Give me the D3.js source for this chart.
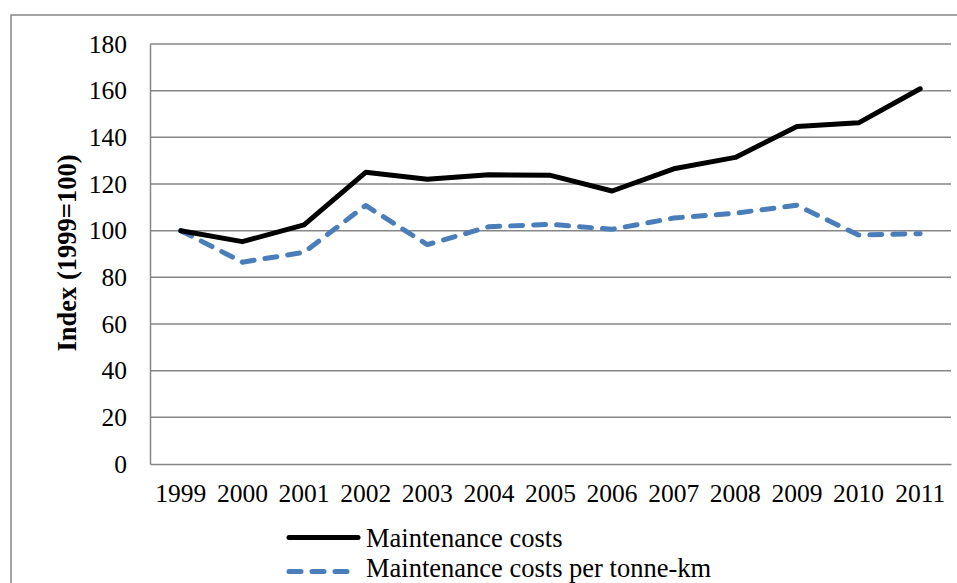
<!DOCTYPE html>
<html><head><meta charset="utf-8">
<script src="https://cdn.jsdelivr.net/npm/d3@7"></script>
<style>body{margin:0;background:#fff}svg{display:block}text{font-family:"Liberation Serif","Times New Roman",serif}</style>
</head><body>
<svg id="c" width="957" height="583"></svg>
<script>
const years = ["1999","2000","2001","2002","2003","2004","2005","2006","2007","2008","2009","2010","2011"];
const maintenanceCosts = [100, 95.3, 102.5, 125, 122, 124, 123.7, 117, 126.5, 131.4, 144.6, 146.2, 160.8];
const costsPerTonneKm = [100, 86.5, 90.7, 110.8, 94, 101.7, 102.7, 100.6, 105.4, 107.5, 110.9, 98.1, 98.7];
const yTicks = [0, 20, 40, 60, 80, 100, 120, 140, 160, 180];
const seriesNames = ["Maintenance costs", "Maintenance costs per tonne-km"];

const svg = d3.select("#c");
const L = 150, R = 951, T = 44, B = 464;
const x = d3.scaleBand().domain(years).range([L, R]);
const y = d3.scaleLinear().domain([0, 180]).range([B, T]);
const grey = "#868686";

// outer border
svg.append("rect").attr("x", 11).attr("y", 15).attr("width", 960).attr("height", 600)
  .attr("fill", "none").attr("stroke", grey).attr("stroke-width", 1.5);

// gridlines
svg.append("g").selectAll("line").data(yTicks.filter(d => d > 0)).join("line")
  .attr("x1", L).attr("x2", R).attr("y1", d => y(d)).attr("y2", d => y(d))
  .attr("stroke", grey).attr("stroke-width", 1.5);

// y axis
const ya = svg.append("g").attr("transform", `translate(${L},0)`)
  .call(d3.axisLeft(y).tickValues(yTicks).tickSize(0).tickPadding(23));
ya.select(".domain").attr("stroke", grey).attr("stroke-width", 1.5);
ya.selectAll("text").attr("font-size", 25.5).attr("fill", "#000").attr("font-family", "Liberation Serif");

// x axis
const xa = svg.append("g").attr("transform", `translate(0,${B})`)
  .call(d3.axisBottom(x).tickSize(0).tickPadding(20));
xa.select(".domain").attr("stroke", grey).attr("stroke-width", 1.5);
xa.selectAll("text").attr("font-size", 25.5).attr("fill", "#000").attr("font-family", "Liberation Serif");

// axis title
svg.append("text").attr("transform", "translate(76,253) rotate(-90)")
  .attr("text-anchor", "middle").attr("font-size", 26.5).attr("font-weight", "bold")
  .text("Index (1999=100)");

const line = d3.line().x((d, i) => x(years[i]) + x.bandwidth() / 2).y(d => y(d));

svg.append("path").datum(costsPerTonneKm).attr("d", line).attr("fill", "none")
  .attr("stroke", "#4a7ebb").attr("stroke-width", 5).attr("stroke-dasharray", "12,11")
  .attr("stroke-linecap", "round").attr("stroke-linejoin", "round");
svg.append("path").datum(maintenanceCosts).attr("d", line).attr("fill", "none")
  .attr("stroke", "#000").attr("stroke-width", 5)
  .attr("stroke-linecap", "round").attr("stroke-linejoin", "round");

// legend
const lg = svg.append("g");
const ly = [537.5, 571.5];
lg.append("line").attr("x1", 289).attr("x2", 358).attr("y1", ly[0]).attr("y2", ly[0])
  .attr("stroke", "#000").attr("stroke-width", 5).attr("stroke-linecap", "round");
lg.append("line").attr("x1", 289).attr("x2", 350).attr("y1", ly[1]).attr("y2", ly[1])
  .attr("stroke", "#4a7ebb").attr("stroke-width", 5).attr("stroke-dasharray", "12,11")
  .attr("stroke-linecap", "round");
lg.selectAll("text").data(seriesNames).join("text")
  .attr("x", 366).attr("y", (d, i) => ly[i] + (i ? 5 : 9)).attr("font-size", 26.5).text(d => d);
</script>
</body></html>
